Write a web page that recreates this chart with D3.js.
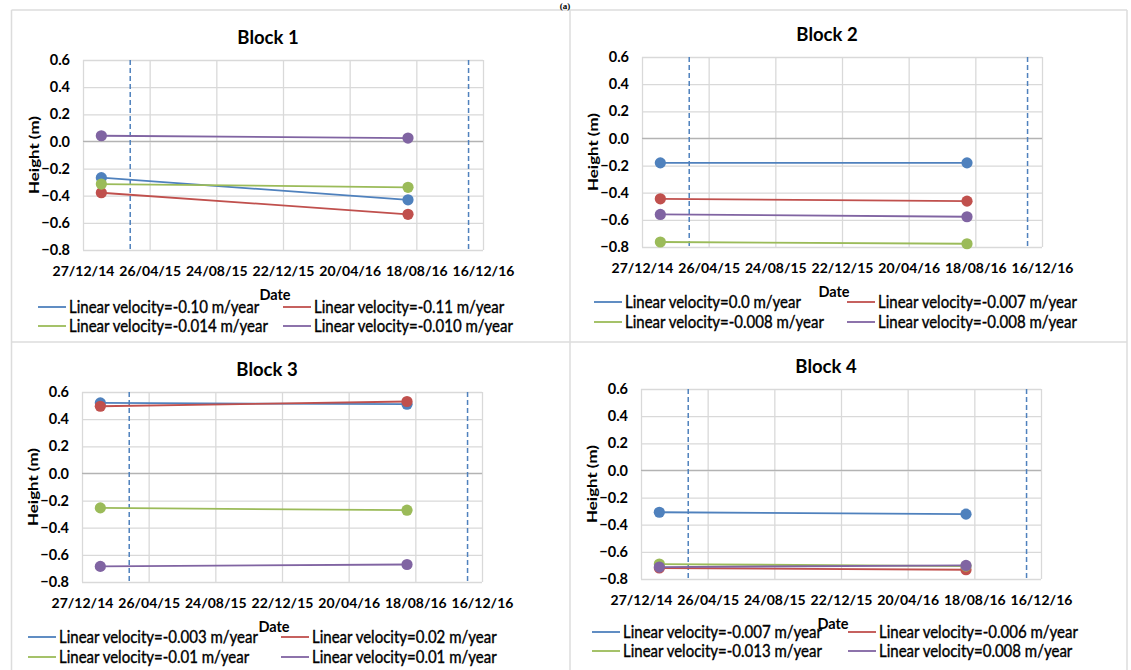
<!DOCTYPE html>
<html>
<head>
<meta charset="utf-8">
<script src="https://cdn.jsdelivr.net/npm/d3@7"></script>
<style>
  body { margin: 0; background: #fff; }
  text { font-family: Lato, "Open Sans", sans-serif; }
</style>
</head>
<body>
<svg id="drawing_region"></svg>
<script>
// dates on the x axis (every 120 days, like the excel axis)
const xTickDates = ["2014-12-27", "2015-04-26", "2015-08-24", "2015-12-22", "2016-04-20", "2016-08-18", "2016-12-16"];
const yTicks = [-0.8, -0.6, -0.4, -0.2, 0.0, 0.2, 0.4, 0.6];

// two surveys, and the two dashed reference dates
const surveyDates = ["2015-01-29", "2016-08-03"];
const refDates = ["2015-03-22", "2016-11-20"];

const blockNames = ["Block 1", "Block 2", "Block 3", "Block 4"];

// series order: blue, red, green, purple
const block1 = [[-0.267, -0.430], [-0.378, -0.537], [-0.314, -0.338], [0.042, 0.025]];
const block2 = [[-0.180, -0.180], [-0.445, -0.462], [-0.763, -0.776], [-0.560, -0.577]];
const block3 = [[0.520, 0.510], [0.495, 0.530], [-0.254, -0.271], [-0.685, -0.671]];
const block4 = [[-0.308, -0.322], [-0.719, -0.732], [-0.690, -0.705], [-0.712, -0.700]];

const legend1 = ["Linear velocity=-0.10 m/year", "Linear velocity=-0.11 m/year", "Linear velocity=-0.014 m/year", "Linear velocity=-0.010 m/year"];
const legend2 = ["Linear velocity=0.0 m/year", "Linear velocity=-0.007 m/year", "Linear velocity=-0.008 m/year", "Linear velocity=-0.008 m/year"];
const legend3 = ["Linear velocity=-0.003 m/year", "Linear velocity=0.02 m/year", "Linear velocity=-0.01 m/year", "Linear velocity=0.01 m/year"];
const legend4 = ["Linear velocity=-0.007 m/year", "Linear velocity=-0.006 m/year", "Linear velocity=-0.013 m/year", "Linear velocity=0.008 m/year"];

const colors = ["#4F81BD", "#C0504D", "#9BBB59", "#8064A2"];

const parse = d3.utcParse("%Y-%m-%d");
const fmt = d3.utcFormat("%d/%m/%y");

const svg = d3.select("#drawing_region")
    .attr("width", 1131)
    .attr("height", 670);

svg.append("rect").attr("width", 1131).attr("height", 670).attr("fill", "#fff");

// frame lines of the figure table
const frame = svg.append("g").attr("stroke", "#dcdcdc").attr("stroke-width", 1.5);
frame.append("line").attr("x1", 11.5).attr("x2", 1127).attr("y1", 10).attr("y2", 10);
frame.append("line").attr("x1", 11.5).attr("x2", 1127).attr("y1", 342).attr("y2", 342);
frame.append("line").attr("x1", 11.5).attr("x2", 11.5).attr("y1", 10).attr("y2", 670);
frame.append("line").attr("x1", 570).attr("x2", 570).attr("y1", 10).attr("y2", 670);
frame.append("line").attr("x1", 1127).attr("x2", 1127).attr("y1", 10).attr("y2", 670);

svg.append("text")
    .attr("x", 565).attr("y", 9)
    .attr("text-anchor", "middle")
    .style("font-family", "'Liberation Serif', serif")
    .style("font-weight", "bold")
    .style("font-size", "9px")
    .text("(a)");

class BlockChart {
    constructor(config, values, legend) {
        this.config = config;
        this.values = values;
        this.legend = legend;
        this.init();
    }

    init() {
        let self = this;
        self.width = 400;
        self.height = 190;

        self.chart = svg.append("g")
            .attr("transform", `translate(${self.config.left}, ${self.config.top})`);

        self.xscale = d3.scaleUtc()
            .domain([parse(xTickDates[0]), parse(xTickDates[xTickDates.length - 1])])
            .range([0, self.width]);

        self.yscale = d3.scaleLinear()
            .domain([-0.8, 0.6])
            .range([self.height, 0]);

        self.line = d3.line()
            .x((d, i) => self.xscale(parse(surveyDates[i])))
            .y(d => self.yscale(d));
    }

    render() {
        let self = this;
        const W = self.width, H = self.height;

        // grid
        self.chart.append("g")
            .call(d3.axisLeft(self.yscale).tickValues(yTicks).tickSize(-W).tickFormat(""))
            .call(g => g.select(".domain").remove())
            .call(g => g.selectAll(".tick line").attr("stroke", "#d9d9d9").attr("stroke-width", 1.3));

        self.chart.append("g")
            .attr("transform", `translate(0, ${H})`)
            .call(d3.axisBottom(self.xscale).tickValues(xTickDates.map(parse)).tickSize(-H).tickFormat(""))
            .call(g => g.select(".domain").remove())
            .call(g => g.selectAll(".tick line").attr("stroke", "#d9d9d9").attr("stroke-width", 1.3));

        // zero line (category axis)
        self.chart.append("line")
            .attr("x1", 0).attr("x2", W)
            .attr("y1", self.yscale(0)).attr("y2", self.yscale(0))
            .attr("stroke", "#b3b3b3").attr("stroke-width", 1.3);

        // tick labels
        const yAxis = self.chart.append("g")
            .call(d3.axisLeft(self.yscale).tickValues(yTicks).tickSize(0).tickPadding(13).tickFormat(d3.format(".1f")));
        yAxis.select(".domain").remove();
        yAxis.selectAll("text")
            .style("font-family", "Lato, sans-serif")
            .style("font-size", "14.5px").style("font-weight", "bold").attr("fill", "#000");

        const xAxis = self.chart.append("g")
            .attr("transform", `translate(0, ${H})`)
            .call(d3.axisBottom(self.xscale).tickValues(xTickDates.map(parse)).tickSize(0).tickPadding(16).tickFormat(fmt));
        xAxis.select(".domain").remove();
        xAxis.selectAll("text")
            .style("font-family", "Lato, sans-serif")
            .style("font-size", "14px").style("font-weight", "bold").attr("fill", "#000");

        // dashed reference dates
        self.chart.selectAll(".ref")
            .data(refDates)
            .enter()
            .append("line")
            .attr("x1", d => self.xscale(parse(d))).attr("x2", d => self.xscale(parse(d)))
            .attr("y1", 0).attr("y2", H)
            .attr("stroke", "#4F81BD").attr("stroke-width", 1.5)
            .attr("stroke-dasharray", "5,3");

        // series
        self.values.forEach((vals, k) => {
            self.chart.append("path")
                .attr("d", self.line(vals))
                .attr("stroke", colors[k]).attr("stroke-width", 1.8)
                .attr("fill", "none");
            self.chart.selectAll(".dot" + k)
                .data(vals)
                .enter()
                .append("circle")
                .attr("cx", (d, i) => self.xscale(parse(surveyDates[i])))
                .attr("cy", d => self.yscale(d))
                .attr("r", 5.6)
                .attr("fill", colors[k]);
        });

        // titles
        self.chart.append("text")
            .attr("x", W / 2 - 15).attr("y", -16)
            .attr("text-anchor", "middle")
            .style("font-size", "18.5px").style("font-weight", "bold")
            .text(self.config.title);

        // y title is taller in the picture than its width, so stretch it along its length
        self.chart.append("text")
            .attr("transform", `translate(-49, ${H / 2}) rotate(-90) scale(1.3, 1)`)
            .attr("dy", "0.35em")
            .attr("text-anchor", "middle")
            .style("font-size", "13px").style("font-weight", "bold")
            .text("Height (m)");

        self.chart.append("text")
            .attr("x", W / 2 - 8).attr("y", H + 50)
            .attr("text-anchor", "middle")
            .style("font-size", "14.5px").style("font-weight", "bold")
            .text("Date");

        // legend, two columns
        self.legend.forEach((label, k) => {
            const lx = self.config.legendX[k % 2];
            const ly = H + self.config.legendY[Math.floor(k / 2)];
            self.chart.append("line")
                .attr("x1", lx).attr("x2", lx + 28)
                .attr("y1", ly - 6).attr("y2", ly - 6)
                .attr("stroke", colors[k]).attr("stroke-width", 1.8);
            self.chart.append("text")
                .attr("transform", `translate(${lx + 31}, ${ly}) scale(1, 1.15)`)
                .style("font-size", "15px")
                .attr("stroke", "#000").attr("stroke-width", 0.35)
                .text(label);
        });
    }
}

const configs = [
    {title: blockNames[0], left: 83, top: 60, legendX: [-45, 200], legendY: [63, 82]},
    {title: blockNames[1], left: 642, top: 57, legendX: [-48, 205], legendY: [61, 81]},
    {title: blockNames[2], left: 82, top: 392, legendX: [-54, 199], legendY: [61, 81]},
    {title: blockNames[3], left: 641, top: 389, legendX: [-49, 207], legendY: [59, 78]}
];
const allValues = [block1, block2, block3, block4];
const allLegends = [legend1, legend2, legend3, legend4];

configs.forEach((c, i) => {
    const chart = new BlockChart(c, allValues[i], allLegends[i]);
    chart.render();
});
</script>
</body>
</html>
